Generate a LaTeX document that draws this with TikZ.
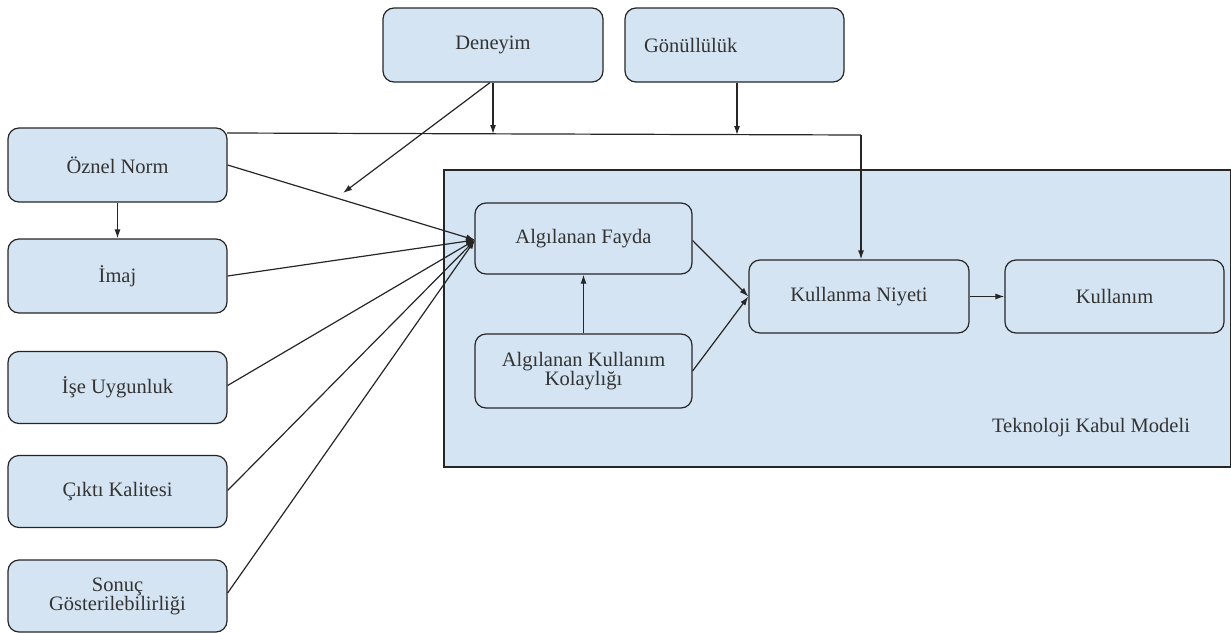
\documentclass[tikz,border=0pt]{standalone}
\usepackage{fontspec}
\setmainfont{Liberation Serif}
\usetikzlibrary{arrows.meta,calc}
\definecolor{boxfill}{RGB}{212,228,242}
\definecolor{txt}{RGB}{51,51,51}
\begin{document}
\begin{tikzpicture}[x=1pt,y=-1pt,
  box/.style={draw=black!85,line width=1.2pt,fill=boxfill,rounded corners=11pt,
    minimum width=219pt,minimum height=73pt,inner sep=0pt,align=center,
    text=txt,font=\fontsize{20.5}{19}\selectfont},
  conn/.style={draw=black!85,line width=1.2pt},
  arr/.style={conn,-{Latex[length=9pt,width=6pt]}}]
\useasboundingbox (0,0) rectangle (1231,632);
% big TKM frame
\node[draw=black!85,line width=1.2pt,fill=boxfill,minimum width=787pt,minimum height=297pt,inner sep=0pt] (tkm) at (837.5,318.5) {};
\node[text=txt,font=\fontsize{20.5}{19}\selectfont] (tkmlabel) at (1091,428) {Teknoloji Kabul Modeli};
% top
\node[box,minimum width=220pt,minimum height=74pt] (den) at (493,45) {Deneyim};
\node[box,minimum height=74pt,text width=181pt,align=left,inner xsep=19pt] (gon) at (734.5,45) {Gönüllülük};
% left column
\node[box,minimum height=74pt] (on) at (117.5,165) {Öznel Norm};
\node[box,minimum height=74pt] (im) at (117.5,276) {İmaj};
\node[box,minimum height=72pt] (ise) at (117.5,387.5) {İşe Uygunluk};
\node[box,minimum height=72pt] (cik) at (117.5,491.5) {Çıktı Kalitesi};
\node[box,minimum height=72pt] (son) at (117.5,596) {Sonuç\\Gösterilebilirliği};
% TKM inner
\node[box,minimum width=217pt,minimum height=71pt] (af) at (583.5,238.5) {Algılanan Fayda};
\node[box,minimum width=217pt,minimum height=74pt] (akk) at (583.5,371) {Algılanan Kullanım\\Kolaylığı};
\node[box,minimum width=220pt] (kn) at (859,296.5) {Kullanma Niyeti};
\node[box] (kul) at (1114.5,296.5) {Kullanım};
% coordinates
\coordinate (start) at (227,133);
\coordinate (corner) at (861,135);
\coordinate (dj) at (493,134);
\coordinate (gj) at (737,135);
\coordinate (dd) at (343,193);
% moderator line
\draw[conn] (start) -- (corner);
\draw[arr] (corner) -- (corner |- kn.north);
\draw[arr] (den.south) -- (dj);
\draw[arr] (gon.south -| gj) -- (gj);
\draw[arr] ([xshift=-3pt]den.south) -- (dd);
% into AF
\coordinate (afin) at (475,240);
\draw[arr] (on.east) -- (afin);
\draw[arr] (im.east) -- (afin);
\draw[arr] ([yshift=2pt]ise.east) -- (afin);
\draw[arr] ([yshift=1pt]cik.east) -- (afin);
\draw[arr] ([yshift=3pt]son.east) -- (afin);
\draw[arr] (on.south) -- (im.north);
% TKM internal
\draw[arr] (akk.north) -- (af.south);
\draw[arr] ([yshift=-2pt]af.east) -- (kn.west);
\draw[arr] (akk.east) -- (kn.west);
\draw[arr] (kn.east) -- (kul.west);
\end{tikzpicture}
\end{document}
